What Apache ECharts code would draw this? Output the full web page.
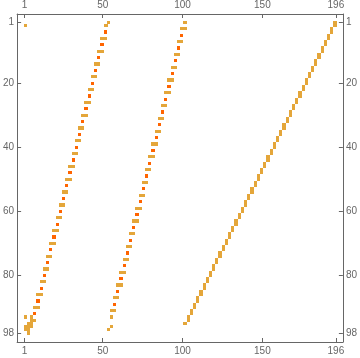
<!DOCTYPE html>
<html>
<head>
<meta charset="utf-8">
<script src="https://cdn.jsdelivr.net/npm/echarts@6/dist/echarts.min.js"></script>
<style>
html,body{margin:0;padding:0;background:#fff;}
#chart{width:360px;height:358px;}
</style>
</head>
<body>
<div id="chart"></div>
<script>
// Matrix dimensions and tick labels
const nRows = 98;
const nCols = 196;
const xTicks = [1, 50, 100, 150, 196];
const yTicks = [1, 20, 40, 60, 80, 98];

// Segments: [rowStart, rowEnd, colStart, colEnd, level]  (level 1 = gold, 2 = dark orange)
const band1 = [
  [1,1,53,54,1],
  [2,2,51,53,1],[4,4,51,52,2],[6,6,49,52,1],[8,8,49,50,2],[10,10,47,50,1],[12,12,47,48,2],
  [14,14,45,48,1],[16,16,45,46,2],[18,18,43,46,1],[20,20,43,44,2],[22,22,41,44,1],[24,24,41,42,2],
  [26,26,39,42,1],[28,28,39,40,2],[30,30,37,40,1],[32,32,37,38,2],[34,34,35,38,1],[36,36,35,36,2],
  [38,38,33,36,1],[40,40,33,34,2],[42,42,31,34,1],[44,44,31,32,2],[46,46,29,32,1],[48,48,29,30,2],
  [50,50,27,30,1],[52,52,27,28,2],[54,54,25,28,1],[56,56,25,26,2],[58,58,23,26,1],[60,60,23,24,2],
  [62,62,21,24,1],[64,64,21,22,2],[66,66,19,22,1],[68,68,19,20,2],[70,70,17,20,1],[72,72,17,18,2],
  [74,74,15,18,1],[76,76,15,16,2],[78,78,13,16,1],[80,80,13,14,2],[82,82,11,14,1],[84,84,11,12,2],
  [86,86,9,12,1],[88,88,9,10,2],[90,90,7,10,1],[92,92,7,8,2]
];
const band1Corner = [
  [2,2,1,2,1],
  [93,93,1,2,1],[93,93,5,6,1],[94,94,5,8,1],[95,95,3,6,1],[96,96,1,6,1],[97,97,1,4,1],[98,98,3,4,1]
];
const band2 = [
  [1,1,101,102,1],
  [3,3,99,102,1],[5,5,99,100,2],[7,7,97,100,1],[9,9,97,98,2],[11,11,95,98,1],[13,13,95,96,2],
  [15,15,93,96,1],[17,17,93,94,2],[19,19,91,94,1],[21,21,91,92,2],[23,23,89,92,1],[25,25,89,90,2],
  [27,27,87,90,1],[29,29,87,88,2],[31,31,85,88,1],[33,33,85,86,2],[35,35,83,86,1],[37,37,83,84,2],
  [39,39,81,84,1],[41,41,81,82,2],[43,43,79,82,1],[45,45,79,80,2],[47,47,77,80,1],[49,49,77,78,2],
  [51,51,75,78,1],[53,53,75,76,2],[55,55,73,76,1],[57,57,73,74,2],[59,59,71,74,1],[61,61,71,72,2],
  [63,63,69,72,1],[65,65,69,70,2],[67,67,67,70,1],[69,69,67,68,2],[71,71,65,68,1],[73,73,65,66,2],
  [75,75,63,66,1],[77,77,63,64,2],[79,79,61,64,1],[81,81,61,62,2],[83,83,59,62,1],[85,85,59,60,2],
  [87,87,57,60,1],[89,89,57,58,2],[91,91,55,58,1],[93,93,55,56,1],[96,96,55,56,1],[97,97,53,54,1]
];
const band3 = [
  [1,2,195,196,1],[3,4,193,194,1],[5,6,191,192,1],[7,8,189,190,1],[9,10,187,188,1],[11,12,185,186,1],
  [13,14,183,184,1],[15,16,181,182,1],[17,18,179,180,1],[19,20,177,178,1],[21,22,175,176,1],[23,24,173,174,1],
  [25,26,171,172,1],[27,28,169,170,1],[29,30,167,168,1],[31,32,165,166,1],[33,34,163,164,1],[35,36,161,162,1],
  [37,38,159,160,1],[39,40,157,158,1],[41,42,155,156,1],[43,44,153,154,1],[45,46,151,152,1],[47,48,149,150,1],
  [49,50,147,148,1],[51,52,145,146,1],[53,54,143,144,1],[55,56,141,142,1],[57,58,139,140,1],[59,60,137,138,1],
  [61,62,135,136,1],[63,64,133,134,1],[65,66,131,132,1],[67,68,129,130,1],[69,70,127,128,1],[71,72,125,126,1],
  [73,74,123,124,1],[75,76,121,122,1],[77,78,119,120,1],[79,80,117,118,1],[81,82,115,116,1],[83,84,113,114,1],
  [85,86,111,112,1],[87,88,109,110,1],[89,90,107,108,1],[91,92,105,106,1],[93,94,103,104,1],[95,95,101,102,1]
];

const segments = band1.concat(band1Corner, band2, band3);
const levelColors = {1: '#E4A63A', 2: '#FF6400'};

const axisColor = '#666666';
const labelStyle = {color: '#666666', fontSize: 10, fontFamily: 'Liberation Sans, Arial, sans-serif'};

const xMin = -3.6, xMax = 200.4;
const yMin = -1.6, yMax = 100.8;

function xAxisDef(pos) {
  return {
    type: 'value', position: pos, min: xMin, max: xMax,
    splitLine: {show: false},
    axisLine: {show: true, onZero: false, lineStyle: {color: axisColor, width: 1}},
    axisTick: {show: true, inside: true, length: 4, customValues: xTicks, lineStyle: {color: axisColor}},
    axisLabel: Object.assign({show: true, margin: 4, customValues: xTicks, formatter: v => String(v)}, labelStyle)
  };
}
function yAxisDef(pos) {
  return {
    type: 'value', position: pos, min: yMin, max: yMax, inverse: true,
    splitLine: {show: false},
    axisLine: {show: true, onZero: false, lineStyle: {color: axisColor, width: 1}},
    axisTick: {show: true, inside: true, length: 4, customValues: yTicks, lineStyle: {color: axisColor}},
    axisLabel: Object.assign({show: true, margin: 3, customValues: yTicks, formatter: v => String(v)}, labelStyle)
  };
}

const chart = echarts.init(document.getElementById('chart'), null, {renderer: 'canvas'});
chart.setOption({
  animation: false,
  backgroundColor: '#ffffff',
  grid: {left: 15, top: 14, width: 328, height: 328, containLabel: false},
  xAxis: [xAxisDef('bottom'), xAxisDef('top')],
  yAxis: [yAxisDef('left'), yAxisDef('right')],
  series: [{
    type: 'custom',
    xAxisIndex: 0, yAxisIndex: 0,
    encode: {x: [2, 3], y: [0, 1]},
    data: segments,
    renderItem: function (params, api) {
      const r1 = api.value(0), r2 = api.value(1), c1 = api.value(2), c2 = api.value(3), lv = api.value(4);
      const p1 = api.coord([c1 - 0.5, r1 - 0.5]);
      const p2 = api.coord([c2 + 0.5, r2 + 0.5]);
      const x0 = Math.round(p1[0]), x1 = Math.round(p2[0]);
      const y0 = Math.round(p1[1]), y1 = Math.round(p2[1]);
      return {
        type: 'rect',
        shape: {x: x0, y: y0, width: x1 - x0, height: y1 - y0},
        style: {fill: levelColors[lv]}
      };
    }
  }]
});
</script>
</body>
</html>
